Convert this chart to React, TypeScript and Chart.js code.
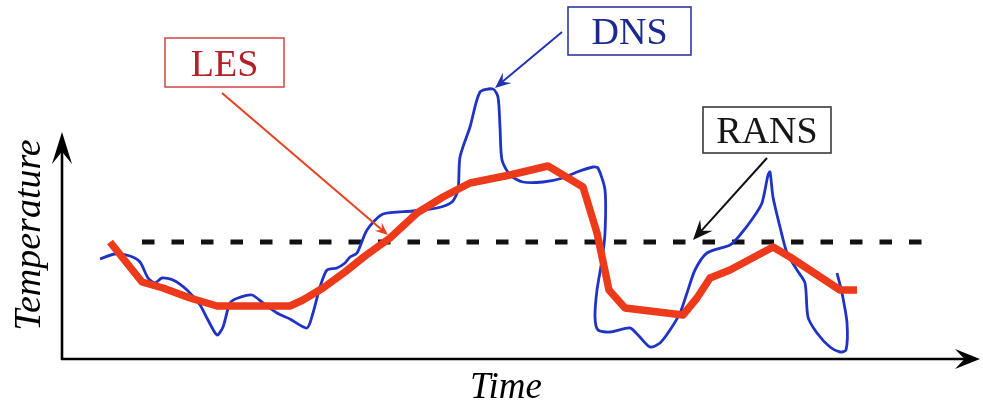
import React, { useEffect, useRef } from "react";
import { Chart, registerables } from "chart.js";

Chart.register(...registerables);

// ---- data (arbitrary units: time along x, temperature along y) ----
const dnsTime = [38, 53, 68, 78, 86, 93, 100, 111, 125, 138, 146, 155, 161, 168, 176, 190, 201, 215, 228, 245, 251, 258, 265, 275, 283, 288, 295, 305, 321, 351, 375, 390, 396, 398, 408, 418, 431, 436, 438, 440, 448, 461, 481, 501, 515, 531, 536, 543, 543, 540, 535, 533, 536, 548, 568, 576, 588, 598, 608, 618, 625, 633, 645, 668, 678, 691, 700, 706, 708, 711, 718, 725, 735, 743, 746, 755, 768, 778, 784, 785, 780, 775];
const dnsTemp = [100, 105, 103, 97, 81, 76, 81, 79, 69, 54, 39, 24, 32, 56, 61, 64, 56, 46, 40, 31, 46, 72, 89, 91, 96, 102, 106, 129, 145, 148, 151, 157, 169, 202, 232, 267, 270, 262, 232, 199, 184, 177, 177, 181, 187, 192, 191, 169, 126, 99, 69, 42, 29, 27, 31, 24, 12, 16, 29, 46, 66, 89, 106, 114, 124, 141, 156, 184, 187, 162, 132, 106, 89, 76, 42, 26, 12, 7, 9, 36, 66, 86];

const lesTime = [48, 80, 101, 128, 155, 228, 241, 261, 283, 303, 328, 355, 381, 408, 448, 486, 501, 521, 535, 547, 563, 621, 635, 648, 668, 711, 728, 778, 795];
const lesTemp = [117, 77, 71, 61, 53, 53, 59, 71, 87, 103, 121, 146, 162, 176, 184, 193, 184, 172, 126, 69, 51, 44, 61, 81, 89, 112, 102, 69, 69];

const ransTime = [80, 860];
const ransTemp = [117, 117];

const seriesNames = ["LES", "DNS", "RANS"];
const axisTitles = { x: "Time", y: "Temperature" };

// ---- annotation callouts (in data units) ----
const callouts = [
  { text: "LES", box: [103, 222, 272, 321], from: [160, 266], to: [326, 124], text_c: "#b3202a", border: "#d4504e", line: "#e8401f", head: 13 },
  { text: "DNS", box: [506, 629, 304, 352], from: [500, 327], to: [433, 271], text_c: "#1b2a8e", border: "#2a3aa6", line: "#2233b0", head: 16 },
  { text: "RANS", box: [641, 769, 206, 252], from: [705, 201], to: [631, 119], text_c: "#161616", border: "#3a3a3a", line: "#111111", head: 20 },
];

function stealth(ctx: CanvasRenderingContext2D, tx: number, ty: number, ang: number, len: number, hw: number, color: string) {
  const dx = Math.cos(ang), dy = Math.sin(ang);
  const px = -dy, py = dx;
  ctx.beginPath();
  ctx.moveTo(tx, ty);
  ctx.lineTo(tx - len * dx + hw * px, ty - len * dy + hw * py);
  ctx.lineTo(tx - 0.62 * len * dx, ty - 0.62 * len * dy);
  ctx.lineTo(tx - len * dx - hw * px, ty - len * dy - hw * py);
  ctx.closePath();
  ctx.fillStyle = color;
  ctx.fill();
}

const overlay = {
  id: "overlay",
  beforeDatasetsDraw(chart: any) {
    const { ctx, chartArea: a } = chart;
    ctx.save();
    ctx.strokeStyle = "#000";
    ctx.lineWidth = 2.6;
    ctx.lineCap = "butt";
    // y axis
    ctx.beginPath();
    ctx.moveTo(a.left, a.bottom + 1);
    ctx.lineTo(a.left, a.top + 14);
    ctx.stroke();
    stealth(ctx, a.left, a.top, -Math.PI / 2, 32, 10, "#000");
    // x axis
    ctx.beginPath();
    ctx.moveTo(a.left - 1, a.bottom);
    ctx.lineTo(a.right - 12, a.bottom);
    ctx.stroke();
    stealth(ctx, a.right, a.bottom, 0, 25, 10, "#000");
    // titles
    ctx.fillStyle = "#000";
    ctx.font = "italic 37px 'Liberation Serif', serif";
    ctx.textAlign = "center";
    ctx.textBaseline = "alphabetic";
    const xs = chart.scales.x, ys = chart.scales.y;
    ctx.fillText(axisTitles.x, xs.getPixelForValue(444), a.bottom + 39);
    ctx.save();
    ctx.translate(a.left - 22, ys.getPixelForValue(124));
    ctx.rotate(-Math.PI / 2);
    ctx.font = "italic 38px 'Liberation Serif', serif";
    ctx.fillText(axisTitles.y, 0, 0);
    ctx.restore();
    ctx.restore();
  },
  afterDatasetsDraw(chart: any) {
    const { ctx } = chart;
    const xs = chart.scales.x, ys = chart.scales.y;
    ctx.save();
    callouts.forEach((c) => {
      const x0 = xs.getPixelForValue(c.box[0]);
      const x1 = xs.getPixelForValue(c.box[1]);
      const y0 = ys.getPixelForValue(c.box[3]);
      const y1 = ys.getPixelForValue(c.box[2]);
      ctx.fillStyle = "#fff";
      ctx.fillRect(x0, y0, x1 - x0, y1 - y0);
      ctx.strokeStyle = c.border;
      ctx.lineWidth = 1.6;
      ctx.strokeRect(x0, y0, x1 - x0, y1 - y0);
      ctx.fillStyle = c.text_c;
      ctx.font = "38px 'Liberation Serif', serif";
      ctx.textAlign = "center";
      ctx.textBaseline = "alphabetic";
      ctx.fillText(c.text, (x0 + x1) / 2, (y0 + y1) / 2 + 13);
      // arrow
      const fx = xs.getPixelForValue(c.from[0]), fy = ys.getPixelForValue(c.from[1]);
      const tx = xs.getPixelForValue(c.to[0]), ty = ys.getPixelForValue(c.to[1]);
      const ang = Math.atan2(ty - fy, tx - fx);
      ctx.strokeStyle = c.line;
      ctx.lineWidth = 2;
      ctx.beginPath();
      ctx.moveTo(fx, fy);
      ctx.lineTo(tx - Math.cos(ang) * c.head * 0.6, ty - Math.sin(ang) * c.head * 0.6);
      ctx.stroke();
      stealth(ctx, tx, ty, ang, c.head, c.head * 0.42, c.line);
    });
    ctx.restore();
  },
};

function pts(xs: number[], ys: number[]) {
  return xs.map((x, i) => ({ x, y: ys[i] }));
}

export default function App() {
  const ref = useRef<HTMLCanvasElement | null>(null);
  useEffect(() => {
    if (!ref.current) return;
    const chart = new Chart(ref.current, {
      type: "scatter",
      data: {
        datasets: [
          {
            label: seriesNames[0],
            data: pts(lesTime, lesTemp),
            showLine: true,
            borderColor: "#ec3a1b",
            borderWidth: 7.5,
            borderJoinStyle: "round",
            pointRadius: 0,
            tension: 0,
            clip: false,
            order: 1,
          } as any,
          {
            label: seriesNames[1],
            data: pts(dnsTime, dnsTemp),
            showLine: true,
            borderColor: "#1f33c4",
            borderWidth: 2.8,
            borderJoinStyle: "round",
            pointRadius: 0,
            tension: 0.25,
            clip: false,
            order: 2,
          } as any,
          {
            label: seriesNames[2],
            data: pts(ransTime, ransTemp),
            showLine: true,
            borderColor: "#111",
            borderWidth: 5,
            borderDash: [12.5, 17],
            pointRadius: 0,
            clip: false,
            order: 3,
          } as any,
        ],
      },
      options: {
        animation: false,
        responsive: true,
        maintainAspectRatio: false,
        events: [],
        layout: { padding: { left: 62, top: 132, right: 3, bottom: 44 } },
        plugins: { legend: { display: false }, tooltip: { enabled: false } },
        scales: {
          x: { type: "linear", display: false, min: 0, max: 918 },
          y: { type: "linear", display: false, min: 0, max: 227 },
        },
      },
      plugins: [overlay],
    });
    return () => chart.destroy();
  }, []);
  return (
    <div style={{ position: "fixed", left: 0, top: 0, width: 983, height: 403, background: "#fff" }}>
      <canvas ref={ref} />
    </div>
  );
}
